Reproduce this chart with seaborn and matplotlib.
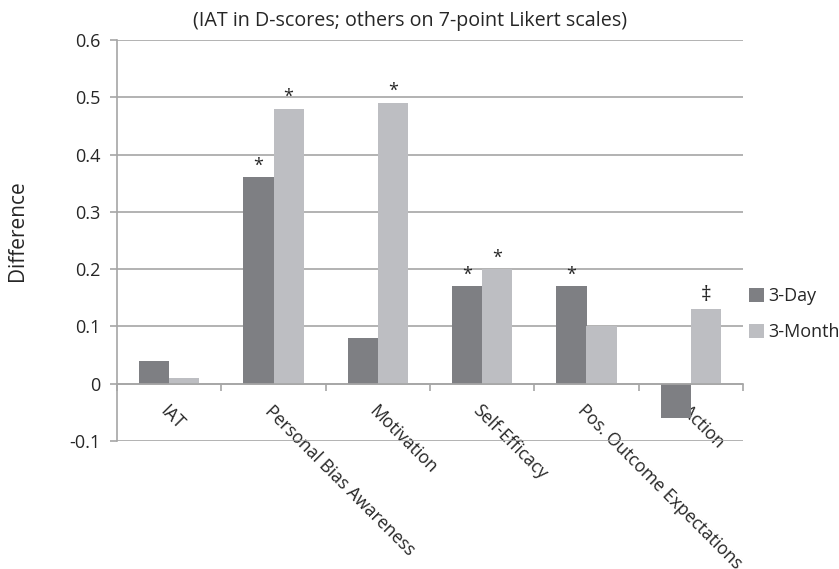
import numpy as np
import pandas as pd
import seaborn as sns
import matplotlib.pyplot as plt
from matplotlib.ticker import FixedLocator

sns.set_theme(style="white")
plt.rcParams['font.family'] = ['Open Sans', 'DejaVu Sans']

categories = ["IAT", "Personal Bias Awareness", "Motivation", "Self-Efficacy",
              "Pos. Outcome Expectations", "Action"]
series = ["3-Day", "3-Month"]
day3 = [0.04, 0.36, 0.08, 0.17, 0.17, -0.06]
month3 = [0.01, 0.48, 0.49, 0.20, 0.10, 0.13]
marks_day3 = ["", "*", "", "*", "*", ""]
marks_month3 = ["", "*", "*", "*", "", "\u2021"]

df = pd.DataFrame({
    "category": categories * 2,
    "series": [series[0]] * len(categories) + [series[1]] * len(categories),
    "value": day3 + month3,
})

grid_col = "#a6a6a6"
text_col = "#262626"
fs = 12.7

fig = plt.figure(figsize=(8.39, 5.69), dpi=100)
ax = fig.add_axes([117 / 839, 1 - 441 / 569, 626 / 839, 401 / 569])

sns.barplot(data=df, x="category", y="value", hue="series", order=categories,
            hue_order=series, palette=["#7e7f83", "#bdbec2"], width=0.58,
            saturation=1, linewidth=0, ax=ax, legend=True)

ax.set_ylim(-0.1, 0.6)
ax.set_xlim(-0.5, len(categories) - 0.5)
ax.set_yticks(np.arange(-0.1, 0.61, 0.1))
ax.set_yticklabels(["-0.1", "0", "0.1", "0.2", "0.3", "0.4", "0.5", "0.6"])
ax.yaxis.grid(True, color=grid_col, linewidth=1.2)
ax.set_axisbelow(True)
ax.tick_params(axis="y", length=5, width=1.2, color=grid_col, pad=7,
               labelsize=13, labelcolor=text_col, left=True)

for s in ["top", "right"]:
    ax.spines[s].set_visible(False)
ax.spines["left"].set_color(grid_col)
ax.spines["left"].set_linewidth(1.2)
ax.spines["bottom"].set_position(("data", 0))
ax.spines["bottom"].set_color(grid_col)
ax.spines["bottom"].set_linewidth(1.2)

ax.set_xticks(range(len(categories)))
ax.set_xticklabels(categories, rotation=-45, ha="left", va="top",
                   rotation_mode="anchor")
ax.tick_params(axis="x", which="major", length=0, pad=13, labelsize=fs,
               labelcolor=text_col)
ax.xaxis.set_minor_locator(FixedLocator(np.arange(-0.5, len(categories), 1.0)))
ax.tick_params(axis="x", which="minor", length=5, width=1.2, color=grid_col,
               bottom=True)

ax.set_xlabel("")
ax.set_ylabel("")

# significance marks
offs = 0.29 / 2
for i in range(len(categories)):
    for val, mk, dx in [(day3[i], marks_day3[i], -offs), (month3[i], marks_month3[i], offs)]:
        if mk:
            ax.annotate(mk, (i + dx, max(val, 0)), xytext=(0, 2),
                        textcoords="offset points", ha="center", va="bottom",
                        fontsize=13 if mk == "*" else 15, color=text_col)

handles, labels = ax.get_legend_handles_labels()
ax.legend(handles, labels, loc="center left", bbox_to_anchor=(733 / 839, 1 - 314 / 569),
          bbox_transform=fig.transFigure, frameon=False, fontsize=13,
          handlelength=0.8, handleheight=0.8, handletextpad=0.25,
          labelspacing=1.0, labelcolor=text_col)

fig.text(18 / 839, 1 - 231 / 569, "Difference", rotation=90, ha="center",
         va="center", fontsize=15, color=text_col)
fig.text(410 / 839, 1 - 21 / 569, "(IAT in D-scores; others on 7-point Likert scales)",
         ha="center", va="center", fontsize=14.2, color=text_col)

fig.savefig("out.png", dpi=100)
